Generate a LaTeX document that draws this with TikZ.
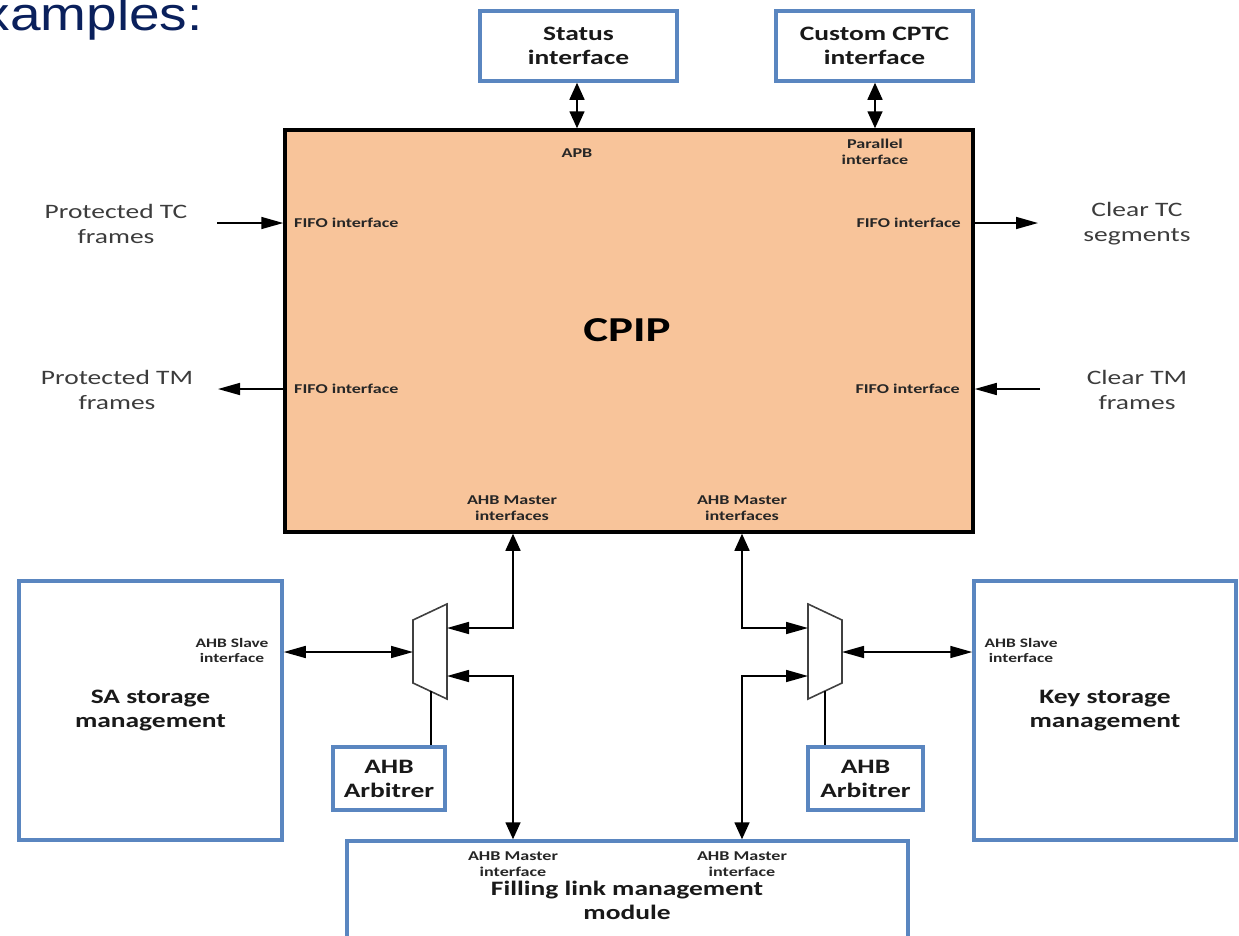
\documentclass[tikz,border=0pt]{standalone}
\usepackage{fontspec}
\setmainfont{Carlito}[FakeStretch=1.34]
\newfontfamily\titlefont{Liberation Sans}[FakeStretch=1.17]
\usetikzlibrary{arrows.meta}
\definecolor{boxblue}{HTML}{5A86C0}
\definecolor{peach}{HTML}{F8C49A}
\definecolor{titleblue}{RGB}{10,32,92}
\definecolor{labelgray}{HTML}{3C3C3C}
\definecolor{muxgray}{HTML}{404040}
\tikzset{
  harr/.tip={Triangle[length=22pt,width=12pt]},
  varr/.tip={Triangle[length=17pt,width=15pt]},
  bluebox/.style={draw=boxblue, line width=3.5pt, fill=white, inner sep=0pt,
    font=\bfseries\fontsize{20.5}{24}\selectfont, align=center, text=black!90},
  cpipbox/.style={draw=black, line width=3.5pt, fill=peach, inner sep=0pt},
  biglabel/.style={font=\fontsize{20.5}{25}\selectfont, align=center, text=labelgray, inner sep=0pt},
  boldlabel/.style={font=\bfseries\fontsize{20.5}{24}\selectfont, align=center, text=black!90, inner sep=0pt},
  small/.style={font=\bfseries\fontsize{13.5}{16}\selectfont, align=center, text=black!85, inner sep=0pt},
  conn/.style={draw=black, line width=1.6pt},
  mux/.style={draw=muxgray, line width=1.6pt, fill=white, line join=miter},
}
\begin{document}
\begin{tikzpicture}[x=1pt,y=-1pt]
\useasboundingbox (0,0) rectangle (1239,935);
% title
\node[anchor=base west, inner sep=0pt, font=\titlefont\fontsize{47}{50}\selectfont, text=titleblue] (title) at (-17.5,30) {xamples:};
% boxes
\node[bluebox, minimum width=197pt, minimum height=70pt] (status) at (578.5,46) {Status\\interface};
\node[bluebox, minimum width=197pt, minimum height=70pt] (cptc) at (874.5,46) {Custom CPTC\\interface};
\node[cpipbox, minimum width=688pt, minimum height=402pt] (cpip) at (629,331) {};
\node[font=\bfseries\fontsize{35}{40}\selectfont, inner sep=0pt] (cpiplbl) at (627,330) {CPIP};
\node[bluebox, minimum width=263pt, minimum height=259pt] (sa) at (150.5,710.5) {SA storage\\management};
\node[bluebox, minimum width=262pt, minimum height=259pt] (key) at (1105,710.5) {Key storage\\management};
\node[bluebox, minimum width=112pt, minimum height=63pt] (arbL) at (389,778.5) {AHB\\Arbitrer};
\node[bluebox, minimum width=115pt, minimum height=63pt] (arbR) at (865.5,778.5) {AHB\\Arbitrer};
\node[bluebox, minimum width=561pt, minimum height=130pt] (fill) at (627.5,906) {};
\node[boldlabel] (filllbl) at (627,900) {Filling link management\\module};
% side texts
\node[biglabel] (ptc) at (116,223.5) {Protected TC\\frames};
\node[biglabel] (ptm) at (117,389.5) {Protected TM\\frames};
\node[biglabel] (ctc) at (1137,223.5) {Clear TC\\segments};
\node[biglabel] (ctm) at (1137,389.5) {Clear TM\\frames};
% small labels
\node[small] (apb) at (577,153) {APB};
\node[small] (par) at (875,152) {Parallel\\interface};
\node[small, anchor=west] (fifo1) at (294,223) {FIFO interface};
\node[small, anchor=east] (fifo2) at (961,223) {FIFO interface};
\node[small, anchor=west] (fifo3) at (294,389) {FIFO interface};
\node[small, anchor=east] (fifo4) at (960,389) {FIFO interface};
\node[small] (ahbm1) at (512,508) {AHB Master\\interfaces};
\node[small] (ahbm2) at (742,508) {AHB Master\\interfaces};
\node[small, font=\bfseries\fontsize{13}{15}\selectfont] (ahbs1) at (232,650.5) {AHB Slave\\interface};
\node[small, font=\bfseries\fontsize{13}{15}\selectfont] (ahbs2) at (1021,650.5) {AHB Slave\\interface};
\node[small] (ahbf1) at (513,864) {AHB Master\\interface};
\node[small] (ahbf2) at (742,864) {AHB Master\\interface};
% muxes
\coordinate (mL1) at (413,620); \coordinate (mL2) at (447,604);
\coordinate (mL3) at (447,699); \coordinate (mL4) at (413,683);
\coordinate (mLin) at (413,652); \coordinate (mLo1) at (447,628);
\coordinate (mLo2) at (447,676); \coordinate (mLbot) at (431,691);
\coordinate (mR1) at (808,604); \coordinate (mR2) at (842,620);
\coordinate (mR3) at (842,683); \coordinate (mR4) at (808,699);
\coordinate (mRin) at (842,652); \coordinate (mRo1) at (808,628);
\coordinate (mRo2) at (808,676); \coordinate (mRbot) at (825,691);
\draw[mux] (mL1) -- (mL2) -- (mL3) -- (mL4) -- cycle;
\draw[mux] (mR1) -- (mR2) -- (mR3) -- (mR4) -- cycle;
% free ends
\coordinate (ptcEnd) at (217,223);
\coordinate (ptmEnd) at (218,389);
\coordinate (ctcEnd) at (1038,223);
\coordinate (ctmEnd) at (1040,389);
\coordinate (jL1) at (513,628); \coordinate (jL2) at (513,676);
\coordinate (jR1) at (742,628); \coordinate (jR2) at (742,676);
% connectors
\draw[conn, varr-varr] (status.south -| 577,0) -- (cpip.north -| 577,0);
\draw[conn, varr-varr] (cptc.south -| 875,0) -- (cpip.north -| 875,0);
\draw[conn, -harr] (ptcEnd) -- (ptcEnd -| cpip.west);
\draw[conn, -harr] (ptmEnd -| cpip.west) -- (ptmEnd);
\draw[conn, -harr] (ctcEnd -| cpip.east) -- (ctcEnd);
\draw[conn, -harr] (ctmEnd) -- (ctmEnd -| cpip.east);
\draw[conn, harr-varr] (mLo1) -- (jL1) -- (jL1 |- cpip.south);
\draw[conn, harr-varr] (mLo2) -- (jL2) -- (jL2 |- fill.north);
\draw[conn, harr-varr] (mRo1) -- (jR1) -- (jR1 |- cpip.south);
\draw[conn, harr-varr] (mRo2) -- (jR2) -- (jR2 |- fill.north);
\draw[conn, harr-harr] (sa.east |- mLin) -- (mLin);
\draw[conn, harr-harr] (mRin) -- (key.west |- mRin);
\draw[conn] (mLbot) -- (mLbot |- arbL.north);
\draw[conn] (mRbot) -- (mRbot |- arbR.north);
\end{tikzpicture}
\end{document}
